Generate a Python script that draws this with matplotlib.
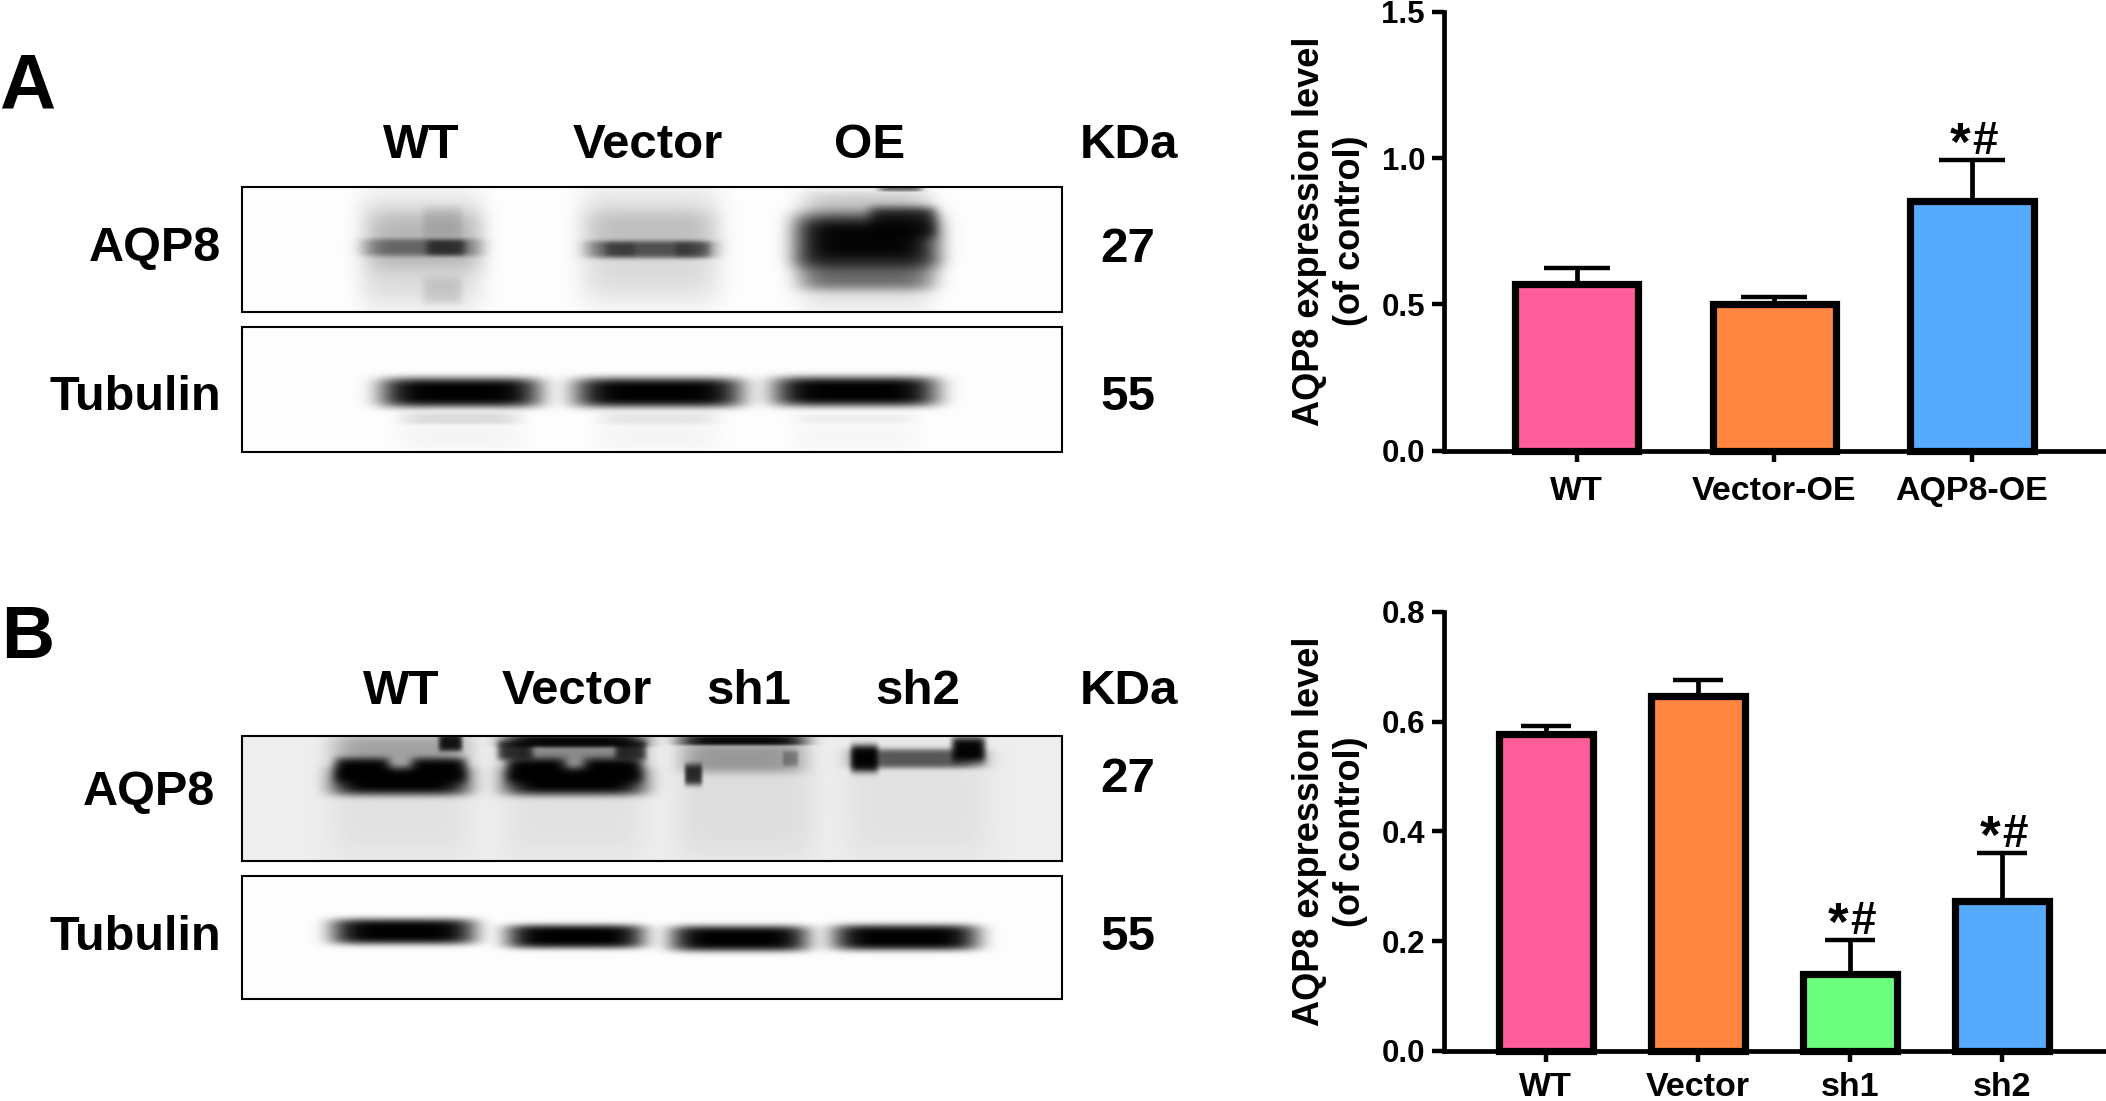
import numpy as np
import matplotlib
matplotlib.use("Agg")
import matplotlib.pyplot as plt
from matplotlib.patches import Rectangle

plt.rcParams['font.family'] = ['Liberation Sans', 'DejaVu Sans']
plt.rcParams['font.weight'] = 'bold'

# ---------- chart data ----------
oe_groups = ['WT', 'Vector-OE', 'AQP8-OE']
oe_values = [0.571, 0.501, 0.852]
oe_errors = [0.052, 0.025, 0.142]
oe_colors = ['#FF5C9A', '#FF8640', '#57ABFF']
oe_marks = ['', '', '*#']
oe_ticks = [0.0, 0.5, 1.0, 1.5]

sh_groups = ['WT', 'Vector', 'sh1', 'sh2']
sh_values = [0.577, 0.646, 0.141, 0.274]
sh_errors = [0.014, 0.030, 0.062, 0.086]
sh_colors = ['#FF5C9A', '#FF8640', '#6CFF7E', '#57ABFF']
sh_marks = ['', '', '*#', '*#']
sh_ticks = [0.0, 0.2, 0.4, 0.6, 0.8]

# ---------- blot densitometry sketch: (x centre, x half width, y centre, y half width, density) ----------
blot_a_aqp8 = [
    (421, 62, 250, 58, 0.14), (425, 58, 240, 30, 0.16), (442, 20, 222, 16, 0.12), (442, 20, 290, 14, 0.12),
    (421, 58, 247, 9, 0.45), (445, 20, 247, 8, 0.55),
    (650, 70, 245, 58, 0.14), (650, 66, 232, 22, 0.12), (650, 62, 249, 9, 0.6),
    (692, 18, 249, 8, 0.3), (620, 15, 249, 7, 0.25),
    (866, 72, 240, 27, 0.98), (902, 34, 222, 16, 0.75), (866, 68, 272, 18, 0.5),
    (866, 68, 250, 58, 0.15), (866, 62, 205, 14, 0.12), (900, 22, 188, 3, 0.5),
]
blot_a_tub = [
    (460, 80, 392, 15, 1.0), (658, 84, 392, 15, 1.0), (855, 82, 391, 15, 1.0),
    (460, 60, 418, 6, 0.13), (658, 60, 418, 6, 0.09), (855, 60, 418, 5, 0.06),
    (460, 62, 436, 14, 0.03), (658, 62, 436, 14, 0.03), (855, 62, 436, 14, 0.025),
]
blot_b_aqp8 = [
    (400, 72, 800, 62, 0.05), (574, 72, 800, 62, 0.05), (745, 70, 800, 62, 0.07), (917, 74, 800, 62, 0.05),
    (400, 69, 780, 15, 1.0), (574, 71, 780, 15, 1.0),
    (362, 28, 770, 13, 0.98), (438, 28, 770, 13, 0.98), (536, 30, 770, 13, 0.98), (612, 30, 770, 13, 0.98),
    (400, 68, 750, 16, 0.3), (574, 70, 750, 16, 0.4),
    (450, 12, 742, 9, 0.9), (574, 70, 741, 6, 0.95), (515, 18, 750, 10, 0.75), (630, 16, 750, 10, 0.75),
    (742, 64, 740, 5, 0.95), (742, 62, 757, 16, 0.32), (693, 9, 774, 11, 0.8), (790, 8, 758, 8, 0.3),
    (917, 66, 758, 10, 0.62), (864, 14, 758, 14, 0.98), (968, 17, 749, 13, 0.98),
]
blot_b_tub = [
    (403, 72, 931, 13, 1.0), (575, 69, 936, 12, 1.0),
    (739, 69, 938, 13, 1.0), (905, 73, 937, 13, 1.0),
]


def render_blot(ax, box, blobs, base):
    left, top, right, bottom = box
    x, y = np.meshgrid(np.arange(left, right), np.arange(top, bottom))
    keep = np.ones_like(x, dtype=float)
    for cx, wx, cy, wy, density in blobs:
        keep *= 1 - density * np.exp(-((x - cx) / wx) ** 6 - ((y - cy) / wy) ** 4)
    ax.imshow(np.clip(keep - base * keep, 0, 1), cmap='gray', vmin=0, vmax=1, aspect='auto',
              extent=(left, right, bottom, top), interpolation='bilinear', zorder=1)
    ax.add_patch(Rectangle((left, top), right - left, bottom - top, fill=False,
                           ec='black', lw=1.5, zorder=2))


def bar_panel(rect, groups, values, errors, colors, marks, ticks, xlim, width, cap, xpad):
    ax = fig.add_axes(rect)
    pos = np.arange(len(groups))
    ax.errorbar(pos, values, yerr=[np.zeros(len(values)), errors], fmt='none', ecolor='black',
                elinewidth=3.4, capsize=cap, capthick=3.2, zorder=2)
    ax.bar(pos, values, width=width, color=colors, edgecolor='black', linewidth=5.2,
           zorder=3, clip_on=False)
    ax.set_xlim(*xlim)
    ax.set_ylim(ticks[0], ticks[-1])
    ax.set_yticks(ticks)
    ax.set_yticklabels([f'{t:.1f}' for t in ticks], fontsize=22.5, fontweight='bold')
    ax.set_xticks(pos)
    ax.set_xticklabels(groups, fontsize=24.5, fontweight='bold')
    ax.tick_params(axis='y', length=8.6, width=3.2, pad=5)
    ax.tick_params(axis='x', length=8.2, width=3.2, pad=xpad)
    for side in ('top', 'right'):
        ax.spines[side].set_visible(False)
    for side in ('left', 'bottom'):
        ax.spines[side].set_linewidth(3.4)
    ax.set_ylabel('AQP8 expression level\n(of control)', fontsize=26, fontweight='bold',
                  linespacing=1.22)
    ax.yaxis.set_label_coords(-0.115, 0.5)
    for p, v, e, m in zip(pos, values, errors, marks):
        if m:
            ax.annotate(m[0], (p, v + e), xytext=(-1, -8), textcoords='offset points',
                        ha='right', va='bottom', fontsize=38, fontweight='bold')
            ax.annotate(m[1], (p, v + e), xytext=(0, -3), textcoords='offset points',
                        ha='left', va='bottom', fontsize=33, fontweight='bold')
    return ax


W, H = 2106, 1101
fig = plt.figure(figsize=(W / 100, H / 100), dpi=100, facecolor='white')


def fig_rect(l, t, r, b):
    return [l / W, 1 - b / H, (r - l) / W, (b - t) / H]


bar_panel(fig_rect(1444, 11.7, 2104, 450.7), oe_groups, oe_values, oe_errors, oe_colors,
          oe_marks, oe_ticks, (-0.671, 2.668), 0.625, 23.8, 10)
bar_panel(fig_rect(1444, 611.7, 2104, 1051), sh_groups, sh_values, sh_errors, sh_colors,
          sh_marks, sh_ticks, (-0.67, 3.67), 0.615, 18, 7)

ov = fig.add_axes([0, 0, 1, 1], facecolor='none')
ov.set_axis_off()
render_blot(ov, (242, 187, 1062, 312), blot_a_aqp8, 0.01)
render_blot(ov, (242, 327, 1062, 452), blot_a_tub, 0.01)
render_blot(ov, (242, 736, 1062, 861), blot_b_aqp8, 0.07)
render_blot(ov, (242, 876, 1062, 999), blot_b_tub, 0.01)
ov.set_xlim(0, W)
ov.set_ylim(H, 0)

lane_labels = [
    ('WT', 421, 146), ('Vector', 648, 146), ('OE', 870, 146), ('KDa', 1129, 146),
    ('27', 1128, 250), ('55', 1128, 398),
    ('WT', 401, 691), ('Vector', 577, 691), ('sh1', 749, 691), ('sh2', 918, 691), ('KDa', 1129, 691),
    ('27', 1128, 779), ('55', 1128, 938),
]
for s, x, y in lane_labels:
    ov.text(x, y, s, ha='center', va='center', fontsize=35.5, fontweight='bold')

row_labels = [('AQP8', 221, 249), ('Tubulin', 221, 398), ('AQP8', 215, 793), ('Tubulin', 221, 938)]
for s, x, y in row_labels:
    ov.text(x, y, s, ha='right', va='center', fontsize=35, fontweight='bold')

ov.text(-1, 108, 'A', ha='left', va='baseline', fontsize=56, fontweight='bold')
ov.text(1, 658, 'B', ha='left', va='baseline', fontsize=53, fontweight='bold')

fig.savefig('out.png', dpi=100, facecolor='white')
